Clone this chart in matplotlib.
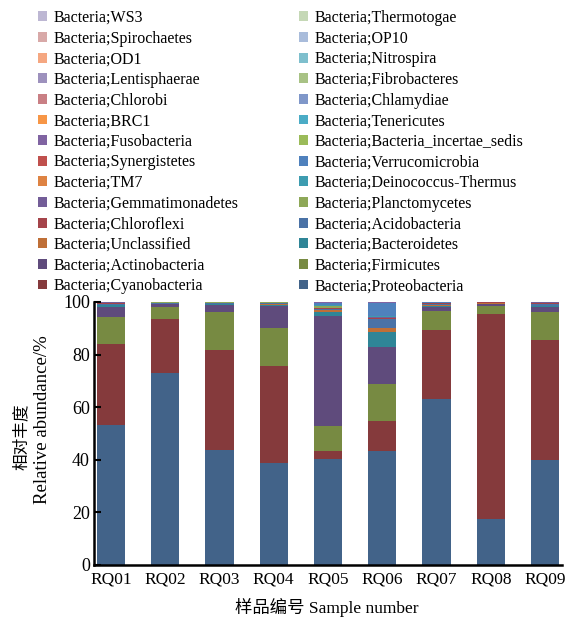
import numpy as np
import matplotlib
matplotlib.use("Agg")
import matplotlib.pyplot as plt
from matplotlib.patches import Patch

plt.rcParams['font.family'] = ['Liberation Serif', 'Noto Sans CJK SC', 'DejaVu Sans']

# DATA: samples and phylum abundances (%), bottom of the stack first
samples = ["RQ01", "RQ02", "RQ03", "RQ04", "RQ05", "RQ06", "RQ07", "RQ08", "RQ09"]

phyla = [
    "Proteobacteria", "Cyanobacteria", "Firmicutes", "Actinobacteria",
    "Bacteroidetes", "Unclassified", "Acidobacteria", "Chloroflexi",
    "Planctomycetes", "Gemmatimonadetes", "Deinococcus-Thermus", "TM7",
    "Verrucomicrobia", "Synergistetes", "Bacteria_incertae_sedis", "Fusobacteria",
    "Tenericutes", "BRC1", "Chlamydiae", "Chlorobi",
    "Fibrobacteres", "Lentisphaerae", "Nitrospira", "OD1",
    "OP10", "Spirochaetes", "Thermotogae", "WS3",
]

proteobacteria = [53.2, 72.9, 43.8, 38.9, 40.2, 43.5, 63.1, 17.4, 39.9]
cyanobacteria = [30.7, 20.6, 37.8, 36.8, 3.1, 11.3, 26.3, 77.9, 45.7]
firmicutes = [10.5, 4.5, 14.6, 14.3, 9.7, 14.2, 7.3, 3.3, 10.7]
actinobacteria = [3.8, 1.1, 2.8, 8.5, 41.7, 14.0, 1.3, 0.6, 1.7]
bacteroidetes = [0.5, 0.2, 0.3, 0.4, 1.6, 5.5, 0.6, 0.2, 0.5]
unclassified = [0.2, 0.1, 0.1, 0.3, 0.6, 1.5, 0.1, 0.1, 0.1]
acidobacteria = [0.5, 0.3, 0.3, 0.3, 0.4, 3.5, 0.6, 0.3, 0.8]
chloroflexi = [0.2, 0.1, 0.1, 0.3, 0.5, 0.4, 0.2, 0.1, 0.2]
planctomycetes = [0.2, 0.1, 0.1, 0.1, 0.5, 0.2, 0.2, 0.1, 0.2]
gemmatimonadetes = [0.1, 0.1, 0.1, 0.1, 0.2, 0.2, 0.1, 0.0, 0.1]
deinococcus = [0.0, 0.0, 0.0, 0.0, 0.2, 0.2, 0.0, 0.0, 0.0]
tm7 = [0.0, 0.0, 0.0, 0.0, 0.3, 0.3, 0.0, 0.0, 0.0]
verrucomicrobia = [0.1, 0.0, 0.0, 0.0, 0.6, 4.8, 0.2, 0.0, 0.1]
synergistetes = [0.0, 0.0, 0.0, 0.0, 0.1, 0.1, 0.0, 0.0, 0.0]
incertae_sedis = [0.0, 0.0, 0.0, 0.0, 0.1, 0.1, 0.0, 0.0, 0.0]
fusobacteria = [0.0, 0.0, 0.0, 0.0, 0.1, 0.1, 0.0, 0.0, 0.0]
tenericutes = [0.0, 0.0, 0.0, 0.0, 0.1, 0.1, 0.0, 0.0, 0.0]
rare = [0.0] * 9  # BRC1 ... WS3, too small to see

values = [
    proteobacteria, cyanobacteria, firmicutes, actinobacteria,
    bacteroidetes, unclassified, acidobacteria, chloroflexi,
    planctomycetes, gemmatimonadetes, deinococcus, tm7,
    verrucomicrobia, synergistetes, incertae_sedis, fusobacteria,
    tenericutes, rare, rare, rare, rare, rare, rare, rare, rare, rare, rare, rare,
]

colors = [
    "#426389", "#853A3C", "#778A42", "#5F4B7C",
    "#2F8597", "#BF6F37", "#4A72A6", "#A5444A",
    "#8EA858", "#735D98", "#3D9CB0", "#DE8343",
    "#4F81BD", "#C0504D", "#9BBB59", "#8064A2",
    "#4BACC6", "#F79646", "#7F97C9", "#C97F84",
    "#A8C285", "#9D91BD", "#7EBFCD", "#F5A781",
    "#A9BCDB", "#D8A9A8", "#C5D8B6", "#BDB7D3",
]

fig = plt.figure(figsize=(5.8, 6.21), dpi=100)
ax = fig.add_axes([0.162, 0.0902, 0.807, 0.4235])

x = np.arange(len(samples))
bottom = np.zeros(len(samples))
for name, vals, col in zip(phyla, values, colors):
    ax.bar(x, vals, width=0.52, bottom=bottom, color=col, linewidth=0)
    bottom += np.array(vals)

ax.set_xlim(-0.31, 8.31)
ax.set_ylim(0, 100)
ax.set_yticks([0, 20, 40, 60, 80, 100])
ax.set_xticks(x)
ax.set_xticklabels(samples)
for s in ["top", "right"]:
    ax.spines[s].set_visible(False)
for s in ["left", "bottom"]:
    ax.spines[s].set_linewidth(1.8)
ax.tick_params(axis="y", direction="in", length=5, width=1.5, labelsize=13, pad=3)
ax.tick_params(axis="x", length=0, labelsize=12.5, pad=5)

# axis titles
fig.text(0.563, 0.022, "样品编号 Sample number", ha="center", va="center", fontsize=12.5)
fig.text(0.038, 1 - 437 / 621, "相对丰度", rotation=90, ha="center", va="center", fontsize=12)
fig.text(0.073, 1 - 420 / 621, "Relative abundance/%", rotation=90, ha="center", va="center", fontsize=13.5)

# legend: two columns, order reversed so the top of the stack is listed first
handles = [Patch(facecolor=c, edgecolor="none") for c in colors]
labels = ["Bacteria;" + p for p in phyla]
left_idx = list(range(27, 0, -2))
right_idx = list(range(26, -1, -2))
legend_kw = dict(loc="upper left", frameon=False, fontsize=11.5, borderpad=0,
                 borderaxespad=0, handlelength=0.57, handleheight=0.57,
                 handletextpad=0.4, labelspacing=0.29)
fig.legend([handles[i] for i in left_idx], [labels[i] for i in left_idx],
           bbox_to_anchor=(38 / 580, 1 - 10 / 621), **legend_kw)
fig.legend([handles[i] for i in right_idx], [labels[i] for i in right_idx],
           bbox_to_anchor=(299 / 580, 1 - 10 / 621), **legend_kw)

fig.savefig("out.png", dpi=100)
